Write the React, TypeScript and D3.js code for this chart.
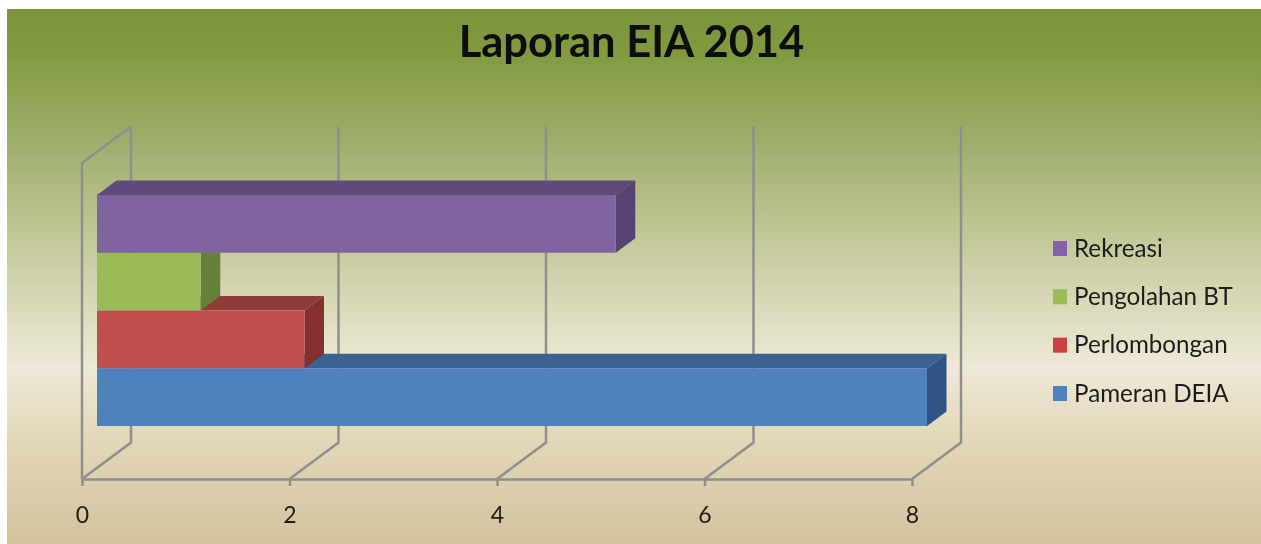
import { useEffect, useRef } from "react";
import * as d3 from "d3";

const seriesNames = ["Pameran DEIA", "Perlombongan", "Pengolahan BT", "Rekreasi"];
const seriesValues = [8, 2, 1, 5];
const frontColors = ["#4f81bd", "#c0504d", "#9bbb59", "#8064a2"];
const topColors = ["#3b6290", "#8f3b39", "#748c42", "#604a7b"];
const sideColors = ["#2f5485", "#83302e", "#67803a", "#574272"];
const legendColors = ["#4f81bd", "#c8413f", "#9bbb59", "#8560ad"];
const xTicks = [0, 2, 4, 6, 8];

const bgStops: [number, string][] = [
  [0, "#7a953b"],
  [0.08, "#82993f"],
  [0.25, "#9eae6c"],
  [0.45, "#c7cb9e"],
  [0.67, "#eee9d8"],
  [0.78, "#e4dabd"],
  [1, "#d2c39c"],
];

export default function App() {
  const svgRef = useRef<SVGSVGElement>(null);

  useEffect(() => {
    const svg = d3.select(svgRef.current);
    svg.selectAll("*").remove();

    const width = 1261, height = 544;
    const font = "Lato, 'Open Sans', sans-serif";
    const ink = "#1c1c1c";
    const grid = "#8f908e";

    const defs = svg.append("defs");
    const grad = defs.append("linearGradient")
      .attr("id", "bg").attr("x1", 0).attr("x2", 0).attr("y1", 0).attr("y2", 1);
    bgStops.forEach(([o, c]) => grad.append("stop").attr("offset", o).attr("stop-color", c));
    // the reference is a soft, rescaled screenshot
    defs.append("filter").attr("id", "soft").append("feGaussianBlur").attr("stdDeviation", 0.5);

    svg.attr("viewBox", `0 0 ${width} ${height}`);
    svg.append("rect").attr("width", width).attr("height", height).attr("fill", "#fff");
    svg.append("rect").attr("x", 7).attr("y", 9).attr("width", width - 7).attr("height", height - 9)
      .attr("fill", "url(#bg)");

    svg.append("text").attr("x", 631.5).attr("y", 57).attr("text-anchor", "middle")
      .attr("filter", "url(#soft)")
      .style("font-family", font).style("font-size", "43.5px").style("font-weight", "bold")
      .attr("fill", "#0c0c0c").text("Laporan EIA 2014");

    // plot box: front floor edge plus the depth of the 3D walls
    const floorY = 479, wallTop = 163;
    const depthX = 49, depthY = -36.5;
    const x = d3.scaleLinear().domain([0, 8]).range([82, 912]);

    const walls = svg.append("g").attr("fill", "none").attr("stroke", grid).attr("stroke-width", 2.5)
      .attr("filter", "url(#soft)");
    xTicks.forEach(t => {
      const px = x(t);
      const path = d3.path();
      path.moveTo(px, floorY);
      path.lineTo(px + depthX, floorY + depthY);
      path.lineTo(px + depthX, wallTop + depthY);
      walls.append("path").attr("d", path.toString());
    });
    const leftWall = d3.path();
    leftWall.moveTo(x(0), floorY);
    leftWall.lineTo(x(0), wallTop);
    leftWall.lineTo(x(0) + depthX, wallTop + depthY);
    walls.append("path").attr("d", leftWall.toString());

    const axis = svg.append("g").attr("transform", `translate(0,${floorY})`).attr("filter", "url(#soft)")
      .call(d3.axisBottom(x).tickValues(xTicks).tickSize(7).tickSizeOuter(0).tickPadding(21));
    axis.select(".domain").attr("stroke", grid).attr("stroke-width", 2.5);
    axis.selectAll(".tick line").attr("stroke", grid).attr("stroke-width", 2.5);
    axis.selectAll(".tick text").attr("fill", ink)
      .style("font-family", font).style("font-size", "23px");

    // bars: series stacked up one band each, 3D faces offset by barDepth
    const barX = 15, barDepthX = 19.5, barDepthY = -14.5;
    const y = d3.scaleBand<string>().domain(seriesNames).range([426, 195]);
    const bars = svg.append("g");
    seriesNames.forEach((name, i) => {
      const x0 = x(0) + barX;
      const x1 = x(seriesValues[i]) + barX;
      const y0 = y(name)!;
      const y1 = y0 + y.bandwidth();
      const face = (pts: [number, number][], fill: string) =>
        bars.append("path").attr("d", d3.line()(pts) + "Z").attr("fill", fill);
      face([[x0, y0], [x0 + barDepthX, y0 + barDepthY], [x1 + barDepthX, y0 + barDepthY], [x1, y0]], topColors[i]);
      face([[x1, y0], [x1 + barDepthX, y0 + barDepthY], [x1 + barDepthX, y1 + barDepthY], [x1, y1]], sideColors[i]);
      face([[x0, y0], [x1, y0], [x1, y1], [x0, y1]], frontColors[i]);
    });

    const legendY = d3.scalePoint<string>().domain(seriesNames).range([393.5, 248.5]);
    const legend = svg.append("g").attr("filter", "url(#soft)");
    seriesNames.forEach((name, i) => {
      const ly = legendY(name)!;
      legend.append("rect").attr("x", 1053).attr("y", ly - 7.5).attr("width", 14).attr("height", 15)
        .attr("fill", legendColors[i]);
      legend.append("text").attr("x", 1074).attr("y", ly + 8)
        .style("font-family", font).style("font-size", "24.2px")
        .attr("fill", ink).text(name);
    });
  }, []);

  return <svg ref={svgRef} width={1261} height={544} style={{ position: "absolute", left: 0, top: 0 }} />;
}
